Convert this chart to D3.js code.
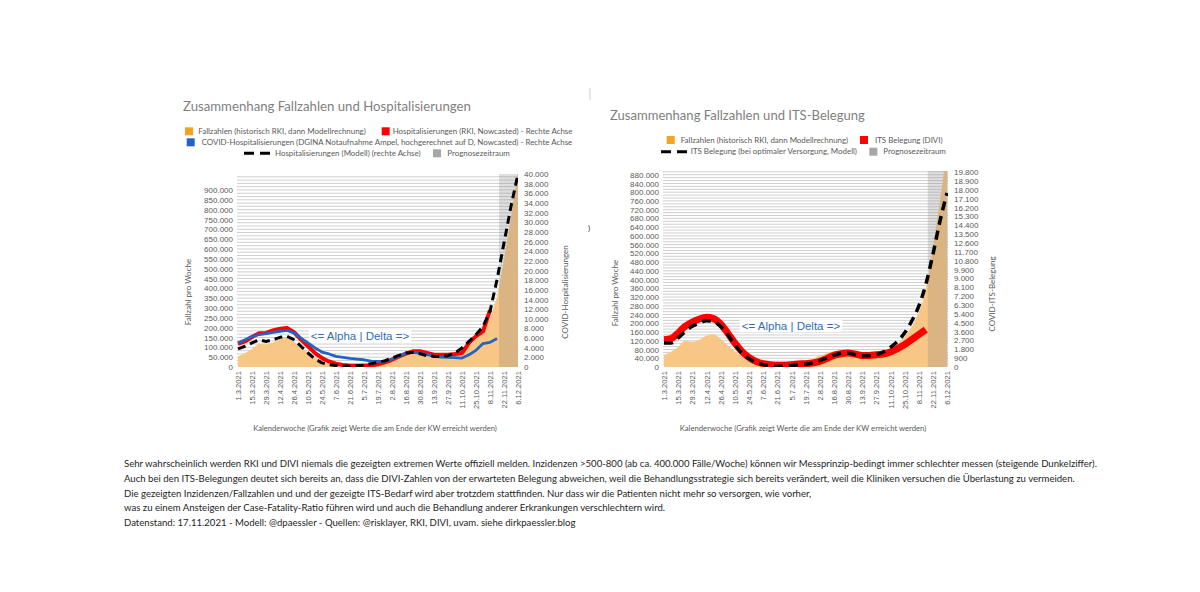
<!DOCTYPE html>
<html>
<head>
<meta charset="utf-8">
<script src="https://cdn.jsdelivr.net/npm/d3@7"></script>
<style>
  body { margin: 0; background: #fff; }
  svg { display: block; font-family: Lato, "Open Sans", sans-serif; }
</style>
</head>
<body>
<svg id="chart" width="1200" height="592"></svg>
<script>
// x tick labels (every second calendar week)
const tickLabels = ["1.3.2021", "15.3.2021", "29.3.2021", "12.4.2021", "26.4.2021", "10.5.2021", "24.5.2021",
    "7.6.2021", "21.6.2021", "5.7.2021", "19.7.2021", "2.8.2021", "16.8.2021", "30.8.2021", "13.9.2021",
    "27.9.2021", "11.10.2021", "25.10.2021", "8.11.2021", "22.11.2021", "6.12.2021"];
const prognoseStart = "17.11.2021";

// weekly cases (both charts, left axis)
const fallzahlen = [55000, 70000, 92000, 120000, 115000, 125000, 143000, 150000, 128000, 100000, 72000,
    48000, 28000, 19000, 11000, 7000, 5000, 5000, 8000, 13000, 24000, 37000, 51000, 63000, 71000, 71000,
    63000, 55000, 51000, 54000, 58000, 68000, 78000, 105000, 139000, 183000, 248000, 355000, 546000,
    760000, 1000000];
// hospitalisations, right axis of chart 1
const hospRki = [4800, 5300, 6200, 7000, 7050, 7600, 7950, 8100, 7200, 5700, 4300, 2900, 1850, 1150, 700,
    420, 280, 280, 280, 350, 560, 970, 1500, 2200, 2750, 3250, 3250, 2900, 2550, 2550, 2550, 2700, 2900,
    5000, 6400, 7400, 11800];
const hospDgina = [5000, 5650, 6350, 6700, 6900, 7200, 7400, 7600, 7050, 6000, 5000, 3950, 3100, 2700, 2200,
    2000, 1800, 1650, 1500, 1200, 1150, 1150, 1650, 2200, 2900, 3050, 2900, 2550, 2200, 2050, 2000, 1950,
    1850, 2550, 3450, 4850, 5100, 5900];
const hospModell = [3750, 4300, 5000, 5650, 5300, 5650, 6150, 6350, 5650, 4300, 2900, 1650, 850, 500, 300,
    200, 200, 280, 350, 700, 950, 1300, 1850, 2400, 2900, 3050, 2750, 2350, 2200, 2200, 2350, 2900, 3950,
    5300, 6700, 8400, 11500, 18100, 25700, 33300, 40000];
// ICU occupancy, right axis of chart 2
const itsDivi = [2780, 2880, 3450, 4130, 4570, 4870, 5040, 4910, 4370, 3450, 2440, 1590, 980, 575, 340, 240,
    170, 170, 240, 300, 340, 400, 575, 850, 1180, 1350, 1420, 1320, 1180, 1180, 1250, 1320, 1520, 1860,
    2270, 2780, 3280, 3790];
const itsModell = [2440, 2440, 2950, 3620, 4130, 4470, 4700, 4640, 4130, 3280, 2270, 1420, 850, 470, 240,
    135, 70, 70, 135, 240, 300, 400, 640, 910, 1180, 1390, 1420, 1250, 1150, 1150, 1250, 1520, 2000, 2610,
    3450, 4640, 6160, 8360, 11410, 14790, 17670];

const noteLines = [
    "Sehr wahrscheinlich werden RKI und DIVI niemals die gezeigten extremen Werte offiziell melden. Inzidenzen >500-800 (ab ca. 400.000 Fälle/Woche) können wir Messprinzip-bedingt immer schlechter messen (steigende Dunkelziffer).",
    "Auch bei den ITS-Belegungen deutet sich bereits an, dass die DIVI-Zahlen von der erwarteten Belegung abweichen, weil die Behandlungsstrategie sich bereits verändert, weil die Kliniken versuchen die Überlastung zu vermeiden.",
    "Die gezeigten Inzidenzen/Fallzahlen und und der gezeigte ITS-Bedarf wird aber trotzdem stattfinden. Nur dass wir die Patienten nicht mehr so versorgen, wie vorher,",
    "was zu einem Ansteigen der Case-Fatality-Ratio führen wird und auch die Behandlung anderer Erkrankungen verschlechtern wird.",
    "Datenstand: 17.11.2021 - Modell: @dpaessler - Quellen: @risklayer, RKI, DIVI, uvam. siehe dirkpaessler.blog"
];

const ORANGE = "#f5a323", AREA = "#f8c785", RED = "#ff0000", BLUE = "#2264c4", GREY = "#a6a6a6", TXT = "#595959";
const parse = d3.timeParse("%d.%m.%Y");
const fmt = d3.formatLocale({ decimal: ",", thousands: ".", grouping: [3], currency: ["", ""] }).format(",.0f");
const weeks = d3.timeMonday.range(parse(tickLabels[0]), d3.timeDay.offset(parse(tickLabels[tickLabels.length - 1]), 1));
const svg = d3.select("#chart");

function fit(t, w) {
    const len = t.node().getComputedTextLength();
    t.attr("font-size", +t.attr("font-size") * w / len);
    return +t.attr("font-size");
}

function drawChart(c) {
    const g = svg.append("g");
    const x = d3.scaleTime().domain([weeks[0], weeks[weeks.length - 1]]).range(c.xRange);
    const yL = d3.scaleLinear().domain([0, c.leftMax]).range([c.bottom, c.top]);
    const yR = d3.scaleLinear().domain([0, c.rightMax]).range([c.bottom, c.top]);
    const clipId = "clip-" + c.id;
    svg.append("clipPath").attr("id", clipId).append("rect")
        .attr("x", c.left).attr("y", c.top).attr("width", c.right - c.left).attr("height", c.bottom - c.top);

    // dense horizontal grid
    g.append("g").selectAll("line").data(d3.range(c.leftStep / 3, c.leftMax, c.leftStep / 3)).join("line")
        .attr("x1", c.left).attr("x2", c.right).attr("y1", d => yL(d)).attr("y2", d => yL(d))
        .attr("stroke", "#cfcfcf").attr("stroke-width", 1);

    const plot = g.append("g").attr("clip-path", `url(#${clipId})`);
    plot.append("path").datum(fallzahlen)
        .attr("d", d3.area().curve(c.curve).x((d, i) => x(weeks[i])).y0(c.bottom).y1(d => yL(d)))
        .attr("fill", AREA);
    plot.append("rect").attr("x", x(parse(prognoseStart))).attr("y", c.top)
        .attr("width", c.right - x(parse(prognoseStart))).attr("height", c.bottom - c.top)
        .attr("fill", "#808080").attr("fill-opacity", 0.25);

    c.lines.forEach(l => {
        plot.append("path").datum(l.data)
            .attr("d", d3.line().curve(c.curve).x((d, i) => x(weeks[i])).y(d => yR(d)))
            .attr("fill", "none").attr("stroke", l.color).attr("stroke-width", l.width)
            .attr("stroke-dasharray", l.dash || null).attr("stroke-linejoin", "round");
    });

    // axes
    const ax = g.append("g").attr("transform", `translate(${c.left},0)`)
        .call(d3.axisLeft(yL).tickValues(d3.range(0, c.leftTop + 1, c.leftStep)).tickFormat(fmt).tickSize(0).tickPadding(4));
    const ar = g.append("g").attr("transform", `translate(${c.right},0)`)
        .call(d3.axisRight(yR).tickValues(d3.range(0, c.rightTop + 1, c.rightStep)).tickFormat(fmt).tickSize(0).tickPadding(6));
    const axb = g.append("g").attr("transform", `translate(0,${c.bottom})`)
        .call(d3.axisBottom(x).tickValues(tickLabels.map(parse)).tickFormat(d3.timeFormat("%-d.%-m.%Y")).tickSize(0));
    axb.selectAll("text").attr("transform", "rotate(-90)").attr("x", -4).attr("y", 0).attr("dy", "0.35em")
        .style("text-anchor", "end").attr("font-size", 7.6);
    [ax, ar, axb].forEach(a => {
        a.select(".domain").remove();
        a.selectAll("text").attr("fill", TXT).attr("font-family", "Liberation Sans, Arial, sans-serif");
    });
    ax.selectAll("text").attr("font-size", 8);
    ar.selectAll("text").attr("font-size", 8);

    // axis titles
    const at = (t, px, py, rot) => g.append("text").text(t).attr("font-size", 8).attr("fill", TXT)
        .attr("text-anchor", "middle").attr("dy", "0.35em")
        .attr("transform", `translate(${px},${py})` + (rot ? " rotate(-90)" : ""));
    at(c.leftTitle[0], c.leftTitle[1], c.leftTitle[2], true);
    at(c.rightTitle[0], c.rightTitle[1], c.rightTitle[2], true);
    fit(at("Kalenderwoche (Grafik zeigt Werte die am Ende der KW erreicht werden)", c.xTitle[0], c.xTitle[1], false), c.xTitle[2]);

    // chart title
    const tt = g.append("text").text(c.title[0]).attr("x", c.title[1]).attr("y", c.title[2])
        .attr("font-size", 14).attr("fill", "#7f7f7f");
    fit(tt, c.title[3]);

    // legend
    let fs = 8;
    c.legend.forEach((it, k) => {
        if (it.kind === "dash") {
            g.append("line").attr("x1", it.x).attr("x2", it.x + 26).attr("y1", it.y).attr("y2", it.y)
                .attr("stroke", "#000").attr("stroke-width", 3).attr("stroke-dasharray", "10,6");
        } else {
            g.append("rect").attr("x", it.x).attr("y", it.y - 4).attr("width", 8).attr("height", 8).attr("fill", it.color);
        }
        const t = g.append("text").text(it.text).attr("x", it.tx).attr("y", it.y).attr("dy", "0.35em")
            .attr("font-size", fs).attr("fill", TXT);
        if (k === 0) fs = fit(t, it.w);
    });

    // era annotation
    const lab = g.append("g");
    const lt = lab.append("text").text("<= Alpha | Delta =>").attr("x", c.era[0]).attr("y", c.era[1])
        .attr("dy", "0.35em").attr("text-anchor", "middle").attr("font-size", 11.5)
        .attr("font-family", "Liberation Sans, Arial, sans-serif").attr("fill", "#2f6db3");
    const bb = lt.node().getBBox();
    lab.insert("rect", "text").attr("x", bb.x - 2).attr("y", bb.y).attr("width", bb.width + 4).attr("height", bb.height).attr("fill", "#fff");
}

drawChart({
    id: "hosp", left: 237, right: 518, top: 174, bottom: 367, xRange: [238, 518],
    leftMax: 981000, leftTop: 900000, leftStep: 50000, rightMax: 40000, rightTop: 40000, rightStep: 2000,
    curve: d3.curveLinear,
    lines: [
        { data: hospRki, color: RED, width: 4 },
        { data: hospDgina, color: BLUE, width: 2.8 },
        { data: hospModell, color: "#000", width: 3, dash: "8,5" }
    ],
    leftTitle: ["Fallzahl pro Woche", 188, 292],
    rightTitle: ["COVID-Hospitalisierungen", 565, 292],
    xTitle: [375, 428, 244],
    title: ["Zusammenhang Fallzahlen und Hospitalisierungen", 183, 111, 288],
    legend: [
        { color: ORANGE, x: 185, y: 131.3, tx: 198.3, w: 168, text: "Fallzahlen (historisch RKI, dann Modellrechnung)" },
        { color: RED, x: 381.7, y: 131.3, tx: 392.7, text: "Hospitalisierungen (RKI, Nowcasted) - Rechte Achse" },
        { color: BLUE, x: 186.7, y: 142.3, tx: 201.7, text: "COVID-Hospitalisierungen (DGINA Notaufnahme Ampel, hochgerechnet auf D, Nowcasted) - Rechte Achse" },
        { kind: "dash", x: 244, y: 153.3, tx: 275, text: "Hospitalisierungen (Modell) (rechte Achse)" },
        { color: GREY, x: 433, y: 153.3, tx: 447.3, text: "Prognosezeitraum" }
    ],
    era: [360, 336]
});

drawChart({
    id: "its", left: 663, right: 948, top: 171, bottom: 367, xRange: [664, 947],
    leftMax: 897000, leftTop: 880000, leftStep: 40000, rightMax: 19900, rightTop: 19800, rightStep: 900,
    curve: d3.curveMonotoneX,
    lines: [
        { data: itsDivi, color: RED, width: 7 },
        { data: itsModell, color: "#000", width: 3.5, dash: "9,6" }
    ],
    leftTitle: ["Fallzahl pro Woche", 615, 293],
    rightTitle: ["COVID-ITS-Belegung", 992, 294],
    xTitle: [803, 428, 247],
    title: ["Zusammenhang Fallzahlen und ITS-Belegung", 610, 120, 255],
    legend: [
        { color: ORANGE, x: 666.7, y: 140, tx: 680.7, w: 167.6, text: "Fallzahlen (historisch RKI, dann Modellrechnung)" },
        { color: RED, x: 860, y: 140, tx: 875, text: "ITS Belegung (DIVI)" },
        { kind: "dash", x: 661, y: 151.7, tx: 690.7, text: "ITS Belegung (bei optimaler Versorgung, Modell)" },
        { color: GREY, x: 869.3, y: 151.7, tx: 883.3, text: "Prognosezeitraum" }
    ],
    era: [791, 326]
});

// small screenshot leftovers between the charts
svg.append("line").attr("x1", 590).attr("x2", 590).attr("y1", 88).attr("y2", 100).attr("stroke", "#d0d0d0");
svg.append("text").text(")").attr("x", 588).attr("y", 231).attr("font-size", 8).attr("fill", "#333");

// note below the charts
const notes = svg.append("g");
let nfs = 11;
noteLines.forEach((line, i) => {
    const t = notes.append("text").text(line).attr("x", 124).attr("y", 467 + i * 14.8)
        .attr("font-size", nfs).attr("fill", "#1e1e1e");
    if (i === 0) nfs = fit(t, 975);
});
</script>
</body>
</html>
